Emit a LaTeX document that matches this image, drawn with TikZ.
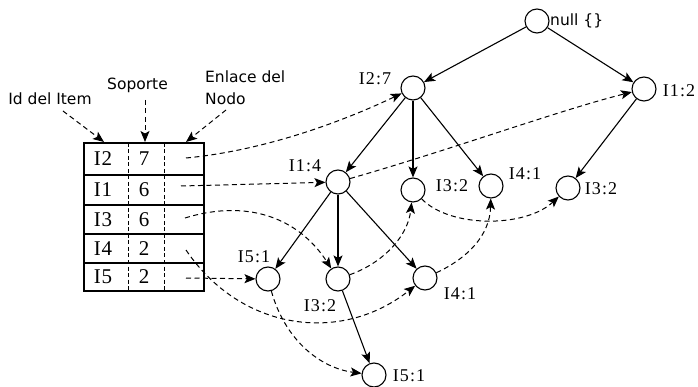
\documentclass[tikz,border=0pt]{standalone}
\usepackage{fontspec}
\setmainfont{Liberation Serif}
\newfontfamily\labelfont[LetterSpace=6]{Liberation Serif}
\newfontfamily\tablefont[LetterSpace=3]{Liberation Serif}
\newfontfamily\headfont{DejaVu Sans}
\usetikzlibrary{arrows.meta}

\begin{document}
\begin{tikzpicture}[x=1pt,y=-1pt,
  tip/.style={-{Stealth[length=11pt,width=9pt,inset=2.5pt]}},
  treenode/.style={circle,draw,line width=1.1pt,minimum size=24pt,inner sep=0pt},
  edge/.style={tip,line width=1.1pt},
  link/.style={tip,line width=1pt,dash pattern=on 5pt off 3.5pt},
  lbl/.style={font=\labelfont\fontsize{18}{20}\selectfont,inner sep=0pt},
  cell/.style={font=\tablefont\fontsize{21}{24}\selectfont,inner sep=0pt},
  head/.style={font=\headfont\fontsize{15.5}{18}\selectfont,inner sep=0pt},
  frame/.style={line width=1.3pt},
  coldiv/.style={line width=1pt,dash pattern=on 4pt off 2.5pt},
]
\useasboundingbox (0,0) rectangle (698,387);

% ---- FP-tree nodes ----
\node[treenode] (root) at (537,21) {};
\node[treenode] (a) at (413,88) {};   % I2:7
\node[treenode] (b) at (644,89) {};   % I1:2
\node[treenode] (c) at (338,182) {};  % I1:4
\node[treenode] (d) at (413,190) {};  % I3:2
\node[treenode] (e) at (491,186) {};  % I4:1
\node[treenode] (f) at (568,188) {};  % I3:2
\node[treenode] (g) at (268,279) {};  % I5:1
\node[treenode] (h) at (338,279) {};  % I3:2
\node[treenode] (k) at (425,278) {};  % I4:1
\node[treenode] (m) at (374,375) {};  % I5:1

% ---- node labels ----
\node[head,anchor=west] (rootlbl) at (550,21) {null \{\}};
\node[lbl] (albl) at (375,79) {I2:7};
\node[lbl] (blbl) at (679,91) {I1:2};
\node[lbl] (clbl) at (305,166) {I1:4};
\node[lbl] (dlbl) at (452,186) {I3:2};
\node[lbl] (elbl) at (525,174) {I4:1};
\node[lbl] (flbl) at (601,189) {I3:2};
\node[lbl] (glbl) at (254,257) {I5:1};
\node[lbl] (hlbl) at (320,306) {I3:2};
\node[lbl] (klbl) at (460,294) {I4:1};
\node[lbl] (mlbl) at (409,376) {I5:1};

% ---- tree edges ----
\draw[edge] (root) -- (a);
\draw[edge] (root) -- (b);
\draw[edge] (a) -- (c);
\draw[edge] (a) -- (d);
\draw[edge] (a) -- (e);
\draw[edge] (b) -- (f);
\draw[edge] (c) -- (g);
\draw[edge] (c) -- (h);
\draw[edge] (c) -- (k);
\draw[edge] (h) -- (m);

% ---- header table ----
\draw[frame] (84,143) rectangle (204,291);
\foreach \yy in {175,205,234,263} \draw[frame] (84,\yy) -- (204,\yy);
\draw[coldiv] (128,143) -- (128,291);
\draw[coldiv] (164,143) -- (164,291);

\node[cell] (i1) at (103,159) {I2};   \node[cell] (s1) at (144,159) {7};
\node[cell] (i2) at (103,190) {I1};   \node[cell] (s2) at (144,190) {6};
\node[cell] (i3) at (103,219.5) {I3}; \node[cell] (s3) at (144,219.5) {6};
\node[cell] (i4) at (103,248.5) {I4}; \node[cell] (s4) at (144,248.5) {2};
\node[cell] (i5) at (103,277) {I5};   \node[cell] (s5) at (144,277) {2};

% node-link column entries
\coordinate (r1) at (186,158);
\coordinate (r2) at (181,186);
\coordinate (r3) at (185,218);
\coordinate (r4) at (186,250);
\coordinate (r5) at (186,278);

% ---- column captions ----
\node[head,anchor=base] (hid) at (50,105) {Id del Item};
\node[head,anchor=base] (hsup) at (137.5,90) {Soporte};
\node[head,anchor=base west] (henl) at (205,83) {Enlace del};
\node[head,anchor=base west] (hnod) at (205,105) {Nodo};

\coordinate (hidfrom) at (63,111);
\coordinate (hidto) at (104,142);
\coordinate (hsupfrom) at (145,100);
\coordinate (hsupto) at (145,142);
\coordinate (henlfrom) at (226,110);
\coordinate (henlto) at (186,142);
\draw[link] (hidfrom) -- (hidto);
\draw[link] (hsupfrom) -- (hsupto);
\draw[link] (henlfrom) -- (henlto);

% ---- node links ----
\draw[link] (r1) .. controls (270,150) and (350,118) .. (a);
\draw[link] (r2) -- (c);
\draw[link] (r3) .. controls (250,198) and (300,220) .. (h);
\draw[link] (r4) .. controls (240,330) and (340,345) .. (k);
\draw[link] (r5) -- (g);
\draw[link] (g) .. controls (285,340) and (320,368) .. (m);
\draw[link] (h) .. controls (385,262) and (408,235) .. (d);
\draw[link] (d) .. controls (450,228) and (525,228) .. (f);
\draw[link] (k) .. controls (468,258) and (490,235) .. (e);
\draw[link] (c) .. controls (450,150) and (560,110) .. (b);
\end{tikzpicture}
\end{document}
